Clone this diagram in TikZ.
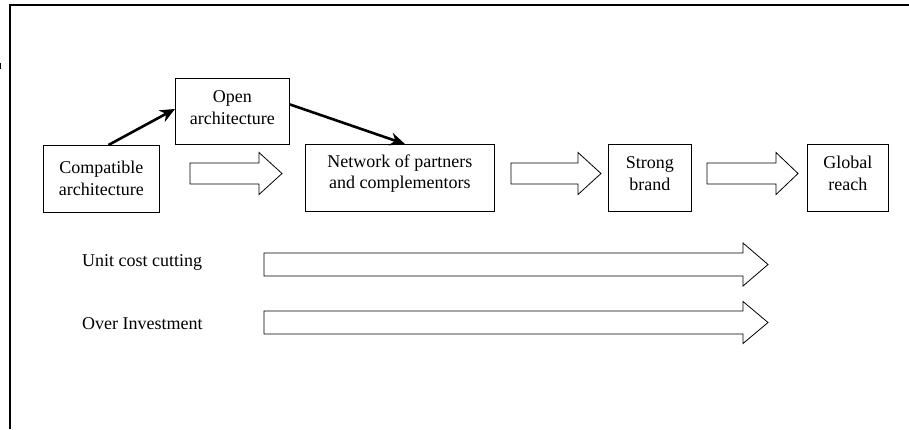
\documentclass[tikz,border=0pt]{standalone}
\usepackage{fontspec}
\setmainfont{Liberation Serif}
\usetikzlibrary{arrows.meta}
\newcommand\harrow[6]{% x1, x2 (tip), xh (head start), ymid, half body, half head
  \path[hollow] (#1,#4-#5) -- (#3,#4-#5) -- (#3,#4-#6) -- (#2,#4) -- (#3,#4+#6) -- (#3,#4+#5) -- (#1,#4+#5) -- cycle;}
\begin{document}
\begin{tikzpicture}[x=1pt,y=-1pt,
  txt/.style={font=\fontsize{18}{21.5}\selectfont, align=center, inner sep=0pt},
  box/.style={draw, line width=0.9pt, inner sep=0pt, anchor=north west},
  thickarrow/.style={line width=2.6pt, -{Stealth[length=15pt,width=13pt]}},
  hollow/.style={draw, line width=0.8pt, fill=white, line join=miter}
]
\useasboundingbox (0,0) rectangle (909,429);
% frame
\draw[line width=1.4pt] (10,429) -- (10,5) -- (909,5);
\draw[line width=1.2pt] (0.5,63) -- (0.5,69);
% boxes
\node[box, minimum width=116pt, minimum height=67pt] (compat) at (43,145) {};
\node[box, minimum width=114pt, minimum height=66pt] (open) at (175,78) {};
\node[box, minimum width=189pt, minimum height=67pt] (network) at (305,144) {};
\node[box, minimum width=83pt, minimum height=67pt] (strong) at (608,144) {};
\node[box, minimum width=81pt, minimum height=67pt] (global) at (807,144) {};
% texts
\node[txt] (tcompat) at ([yshift=0.5pt]compat.center) {Compatible\\architecture};
\node[txt] (topen) at ([yshift=4pt]open.center) {Open\\architecture};
\node[txt] (tnetwork) at ([yshift=4.5pt]network.center) {Network of partners\\and complementors};
\node[txt] (tstrong) at ([yshift=4.5pt]strong.center) {Strong\\brand};
\node[txt] (tglobal) at ([yshift=4.5pt]global.center) {Global\\reach};
\node[txt, anchor=west] (unit) at (82,262) {Unit cost cutting};
\node[txt, anchor=west] (over) at (82,324) {Over Investment};
% thick arrows
\draw[thickarrow] ([xshift=7pt]compat.north) -- ([yshift=2.5pt]open.west);
\draw[thickarrow] ([yshift=7pt]open.east) -- ([xshift=5pt]network.north);
% hollow arrows
\harrow{190}{282}{259}{173.5}{10.5}{21}
\harrow{511}{601}{578}{173.5}{10.5}{21}
\harrow{707}{798}{776}{173.5}{10.5}{21}
\harrow{264}{768}{743}{264.5}{11.5}{21.5}
\harrow{264}{768}{743}{322.5}{11.5}{21}
\end{tikzpicture}
\end{document}
